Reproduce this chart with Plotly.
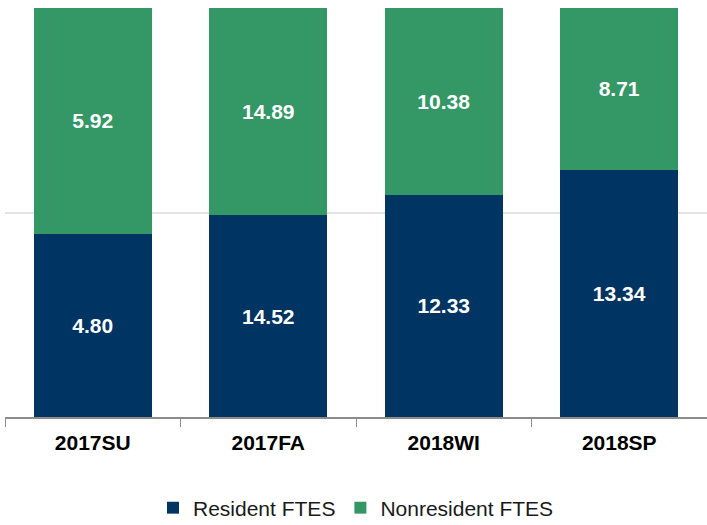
import plotly.graph_objects as go

terms = ["2017SU", "2017FA", "2018WI", "2018SP"]
resident = [4.80, 14.52, 12.33, 13.34]
nonresident = [5.92, 14.89, 10.38, 8.71]

navy = "#003462"
green = "#339866"
font_family = "Liberation Sans, Arial, sans-serif"

fig = go.Figure()
fig.add_trace(go.Bar(
    name="Resident FTES", x=terms, y=resident,
    text=[f"{v:.2f}" for v in resident],
    marker=dict(color=navy, line=dict(width=0)),
))
fig.add_trace(go.Bar(
    name="Nonresident FTES", x=terms, y=nonresident,
    text=[f"{v:.2f}" for v in nonresident],
    marker=dict(color=green, line=dict(width=0)),
))
fig.update_traces(
    textposition="inside", insidetextanchor="middle",
    textfont=dict(color="white", size=21, family=font_family, weight="bold"),
    textangle=0, hoverinfo="skip",
)

fig.update_layout(
    width=707, height=525,
    barmode="stack", barnorm="percent", bargap=0.33,
    margin=dict(l=5, r=0, t=8, b=108, autoexpand=False),
    plot_bgcolor="white", paper_bgcolor="white",
    font=dict(family=font_family, color="black"),
    showlegend=True,
    legend=dict(
        orientation="h", x=0.5, xanchor="center", y=-0.2225, yanchor="middle",
        font=dict(size=21, family=font_family, color="#1a1a1a"),
        traceorder="normal",
    ),
    xaxis=dict(
        showline=True, linecolor="#8c8c8c", linewidth=1.5,
        ticks="outside", tickson="boundaries", ticklen=8, tickcolor="#8c8c8c",
        ticklabelstandoff=6,
        tickfont=dict(size=21, family=font_family, weight="bold", color="black"),
    ),
    yaxis=dict(
        range=[0, 100], dtick=50, showticklabels=False,
        showgrid=True, gridcolor="#e3e3e3", gridwidth=1.5,
        zeroline=False,
    ),
)

fig.write_html("out.html")
